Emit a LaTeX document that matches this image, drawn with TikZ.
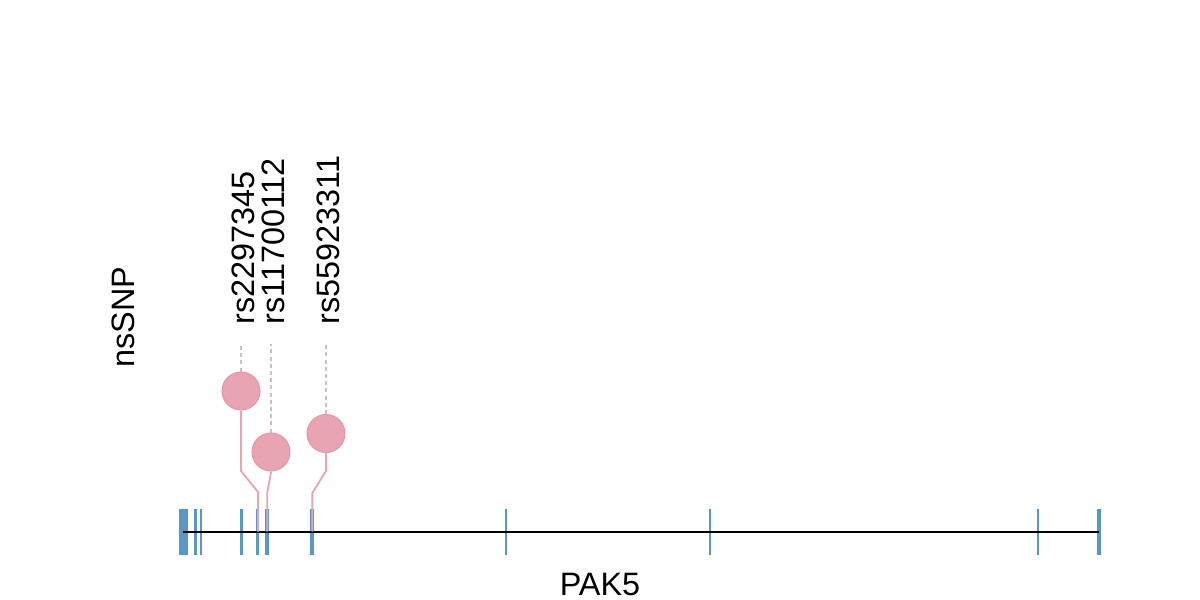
\documentclass[tikz,border=0pt]{standalone}
\usepackage{fontspec}
\setmainfont{Liberation Sans}
\definecolor{exonblue}{RGB}{91,151,196}
\definecolor{snppink}{RGB}{232,164,178}
\definecolor{snpedge}{RGB}{228,150,168}
\definecolor{dashgrey}{RGB}{195,195,195}
\begin{document}
\begin{tikzpicture}[x=0.5pt,y=-0.5pt,
  txt/.style={font=\fontsize{16.2}{19}\selectfont, inner sep=0pt},
  lab/.style={txt, rotate=90, anchor=base west},
  exon/.style={draw=exonblue, line width=1.35pt, line cap=butt},
  wexon/.style={draw=exonblue, line width=2pt, line cap=butt},
  stick/.style={draw=snppink, line width=0.9pt},
  snp/.style={circle, fill=snppink, draw=snpedge, line width=0.5pt, minimum size=19pt, inner sep=0pt},
  guide/.style={draw=dashgrey, line width=0.7pt, dash pattern=on 2pt off 1.6pt}]
\useasboundingbox (0,0) rectangle (1200,600);
% exons
\fill[exonblue] (179,509) rectangle (187.5,555);
\foreach \x in {195.5,201,241.5,257.8,506,710,1038}{\draw[exon] (\x,509) -- (\x,555);}
\foreach \x in {267.3,311.8,1099.3}{\draw[wexon] (\x,509) -- (\x,555);}
% backbone
\coordinate (gs) at (183,531.5);
\coordinate (ge) at (1099,531.5);
\draw[black, line width=1pt] (gs) -- (ge);
% SNP 1
\node[snp] (c1) at (241,391) {};
\coordinate (b1) at (258,531.5);
\coordinate (k1a) at (258,492);
\coordinate (k1b) at (241,471);
\coordinate (t1) at (241,346);
\draw[stick] (b1) -- (k1a) -- (k1b) -- (c1.south);
\draw[guide] (c1.north) -- (t1);
\node[lab] (l1) at (254,325) {rs2297345};
% SNP 2
\node[snp] (c2) at (271,452) {};
\coordinate (b2) at (267.3,531.5);
\coordinate (k2a) at (267.3,492);
\coordinate (k2b) at (271,472.5);
\coordinate (t2) at (271,344);
\draw[stick] (b2) -- (k2a) -- (k2b) -- (c2.south);
\draw[guide] (c2.north) -- (t2);
\node[lab] (l2) at (284.5,325) {rs11700112};
% SNP 3
\node[snp] (c3) at (326,433.5) {};
\coordinate (b3) at (312.3,531.5);
\coordinate (k3a) at (312.3,493);
\coordinate (k3b) at (326,471);
\coordinate (t3) at (326,345);
\draw[stick] (b3) -- (k3a) -- (k3b) -- (c3.south);
\draw[guide] (c3.north) -- (t3);
\node[lab] (l3) at (339,325) {rs55923311};
% axis labels
\node[txt, rotate=90, anchor=base] (ylab) at (134,317) {nsSNP};
\node[txt, anchor=base] (xlab) at (600,595) {PAK5};
\end{tikzpicture}
\end{document}
